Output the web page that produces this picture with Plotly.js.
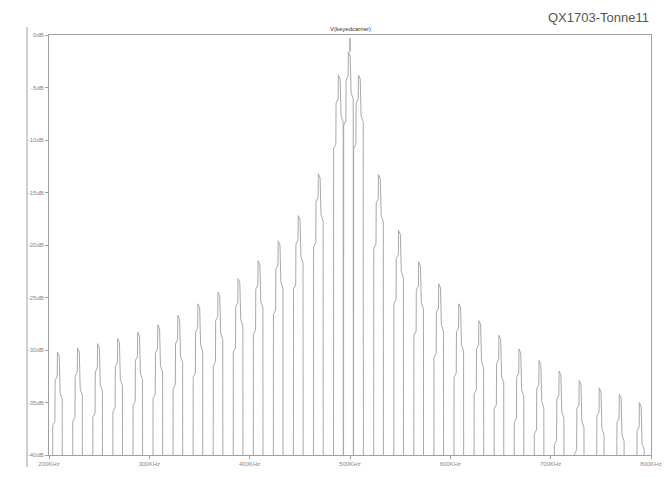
<!DOCTYPE html>
<html>
<head>
<meta charset="utf-8">
<script src="https://cdn.plot.ly/plotly-3.0.1.min.js"></script>
<style>
html,body{margin:0;padding:0;background:#fff;}
#chart{width:672px;height:477px;}
</style>
</head>
<body>
<div id="chart"></div>
<script>
// Spectral lines: carrier at 500 kHz plus sidebands (kHz)
const lineFreqsKHz = [210,230,250,270,290,310,330,350,370,390,410,430,450,470,490,500,
                      510,530,550,570,590,610,630,650,670,690,710,730,750,770,790];
// Peak level of each line (dB)
const lineLevelsDb = [-30.2,-29.8,-29.4,-28.9,-28.3,-27.6,-26.7,-25.6,-24.5,-23.2,-21.5,-19.6,-17.2,-13.2,-3.8,-1.6,
                      -3.8,-13.3,-18.6,-21.6,-23.7,-25.6,-27.2,-28.6,-29.9,-31.0,-32.0,-32.9,-33.6,-34.2,-35.0];
// Carrier spike top (dB) at 500 kHz
const carrierSpikeDb = -0.3;
// FFT leakage outline of a single line: offset (kHz) and level relative to the peak (dB)
const shapeOffsetKHz = [-6.5,-6.3,-4.1,-3.9,-1.8,-1.6,0.2,0.35,0.9,1.1,3.2,3.4];
const shapeRelDb     = [-40,-7.0,-6.6,-2.7,-2.3,0,-0.4,-0.9,-1.2,-3.9,-4.5,-40];

const yTickVals = [0,-5,-10,-15,-20,-25,-30,-35,-40];
const yTickText = ['0dB','-5dB','-10dB','-15dB','-20dB','-25dB','-30dB','-35dB','-40dB'];
const xTickVals = [200,300,400,500,600,700,800];
const xTickText = ['200KHz','300KHz','400KHz','500KHz','600KHz','700KHz','800KHz'];

const xs = [], ys = [];
for (let i = 0; i < lineFreqsKHz.length; i++) {
  const f0 = lineFreqsKHz[i], p = lineLevelsDb[i];
  for (let k = 0; k < shapeOffsetKHz.length; k++) {
    xs.push(f0 + shapeOffsetKHz[k]);
    ys.push(shapeRelDb[k] <= -40 ? -60 : p + shapeRelDb[k]);
  }
  xs.push(null); ys.push(null);
}
// carrier spike
const spikeX = [500, 500], spikeY = [lineLevelsDb[15], carrierSpikeDb];

const traces = [
  {x: xs, y: ys, type: 'scatter', mode: 'lines', connectgaps: false,
   line: {color: '#a9a9a9', width: 1}, hoverinfo: 'skip'},
  {x: spikeX, y: spikeY, type: 'scatter', mode: 'lines',
   line: {color: '#777', width: 1}, hoverinfo: 'skip'}
];

const axisCommon = {
  showgrid: false, zeroline: false, showline: true, linecolor: '#a0a0a0', linewidth: 1,
  mirror: true, ticks: 'outside', ticklen: 3, tickcolor: '#a0a0a0', tickwidth: 1,
  tickfont: {family: 'Liberation Sans, Arial, sans-serif', size: 6, color: '#888'}
};

const layout = {
  width: 672, height: 477,
  margin: {l: 49, r: 21, t: 35, b: 22, pad: 0},
  paper_bgcolor: '#fff', plot_bgcolor: '#fff',
  showlegend: false,
  xaxis: Object.assign({}, axisCommon, {range: [200, 800], tickmode: 'array',
    tickvals: xTickVals, ticktext: xTickText, ticklabelstandoff: 0}),
  yaxis: Object.assign({}, axisCommon, {range: [-40, 0], tickmode: 'array',
    tickvals: yTickVals, ticktext: yTickText}),
  annotations: [
    {text: 'V(keyedcarrier)', xref: 'paper', yref: 'paper', x: 0.5, y: 1.0, xanchor: 'center', yanchor: 'bottom',
     yshift: 1, showarrow: false, font: {family: 'Liberation Sans, Arial, sans-serif', size: 6, color: '#333'}},
    {text: 'QX1703-Tonne11', xref: 'paper', yref: 'paper', x: 1.0, y: 1.0, xanchor: 'right', yanchor: 'bottom',
     yshift: 8, showarrow: false, font: {family: 'Liberation Sans, Arial, sans-serif', size: 13, color: '#555'}}
  ],
  shapes: [
    {type: 'line', xref: 'paper', yref: 'paper', x0: -0.0365, x1: -0.0365, y0: -0.029, y1: 1.019,
     line: {color: '#a0a0a0', width: 1}}
  ]
};

Plotly.newPlot('chart', traces, layout, {staticPlot: true, displayModeBar: false});
</script>
</body>
</html>
